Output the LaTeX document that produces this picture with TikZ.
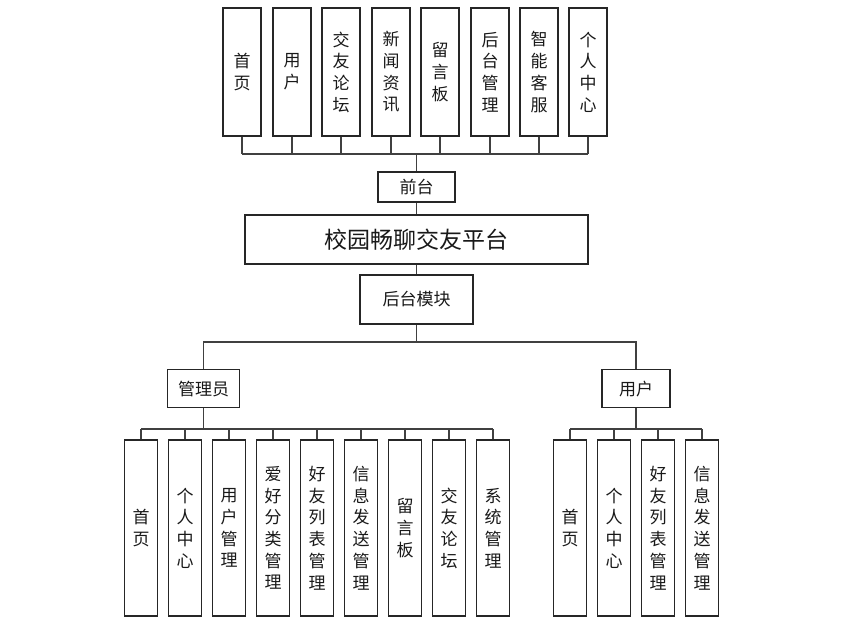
\documentclass[tikz,border=0pt]{standalone}
\usepackage{fontspec}
\newfontfamily\cjk{Noto Sans CJK SC}
\begin{document}
\begin{tikzpicture}[x=1pt,y=-1pt,
  box/.style={draw=black!85, line width=1.3pt, fill=white, inner sep=0pt, text=black!90},
  cfont/.style={font=\cjk\fontsize{17}{21.7}\selectfont},
  tbox/.style={box, cfont, minimum width=38pt, minimum height=128pt, align=center},
  lbox/.style={box, cfont, minimum width=33.5pt, minimum height=176pt, align=center},
  hbox/.style={box, cfont},
  conn/.style={draw=black!75, line width=1.2pt}]
\useasboundingbox (0,0) rectangle (861,624);
% top row
\node[tbox] (t1) at (242,72) {首\\页};
\node[tbox] (t2) at (292,72) {用\\户};
\node[tbox] (t3) at (341,72) {交\\友\\论\\坛};
\node[tbox] (t4) at (391,72) {新\\闻\\资\\讯};
\node[tbox] (t5) at (440,72) {留\\言\\板};
\node[tbox] (t6) at (490,72) {后\\台\\管\\理};
\node[tbox] (t7) at (539,72) {智\\能\\客\\服};
\node[tbox] (t8) at (588,72) {个\\人\\中\\心};
\node[hbox, minimum width=77pt, minimum height=30pt] (qt) at (416.5,187) {前台};
\node[box, font=\cjk\fontsize{23}{26}\selectfont, minimum width=343pt, minimum height=49pt] (main) at (416.5,239.5) {校园畅聊交友平台};
\node[hbox, minimum width=113pt, minimum height=49pt] (ht) at (416.5,299.5) {后台模块};
\node[hbox, minimum width=71.6pt, minimum height=37.8pt] (adm) at (203.5,388.7) {管理员};
\node[hbox, minimum width=68pt, minimum height=37.8pt] (usr) at (636,388.7) {用户};
% admin children
\node[lbox] (a1) at (141,528) {首\\页};
\node[lbox] (a2) at (185,528) {个\\人\\中\\心};
\node[lbox] (a3) at (229,528) {用\\户\\管\\理};
\node[lbox] (a4) at (273,528) {爱\\好\\分\\类\\管\\理};
\node[lbox] (a5) at (317,528) {好\\友\\列\\表\\管\\理};
\node[lbox] (a6) at (361,528) {信\\息\\发\\送\\管\\理};
\node[lbox] (a7) at (405,528) {留\\言\\板};
\node[lbox] (a8) at (449,528) {交\\友\\论\\坛};
\node[lbox] (a9) at (493,528) {系\\统\\管\\理};
% user children
\node[lbox] (u1) at (570,528) {首\\页};
\node[lbox] (u2) at (614,528) {个\\人\\中\\心};
\node[lbox] (u3) at (658,528) {好\\友\\列\\表\\管\\理};
\node[lbox] (u4) at (702,528) {信\\息\\发\\送\\管\\理};
% bus coordinates
\coordinate (tbus) at (416.5,154);
\coordinate (mbus) at (416.5,342);
\coordinate (lbus) at (203.5,429);
% top connectors
\foreach \n in {t1,t2,t3,t4,t5,t6,t7,t8}
  \draw[conn] (\n.south) -- (\n.south |- tbus);
\draw[conn] (t1.south |- tbus) -- (t8.south |- tbus);
\draw[conn] (qt.north) -- (tbus);
\draw[conn] (qt.south) -- (main.north -| qt.south);
\draw[conn] (main.south) -- (ht.north);
% middle
\draw[conn] (ht.south) -- (mbus);
\draw[conn] (adm.north) |- (mbus) -| (usr.north);
% lower left
\draw[conn] (adm.south) -- (lbus);
\foreach \n in {a1,a2,a3,a4,a5,a6,a7,a8,a9}
  \draw[conn] (\n.north) -- (\n.north |- lbus);
\draw[conn] (a1.north |- lbus) -- (a9.north |- lbus);
% lower right
\draw[conn] (usr.south) -- (usr.south |- lbus);
\foreach \n in {u1,u2,u3,u4}
  \draw[conn] (\n.north) -- (\n.north |- lbus);
\draw[conn] (u1.north |- lbus) -- (u4.north |- lbus);
\end{tikzpicture}
\end{document}
